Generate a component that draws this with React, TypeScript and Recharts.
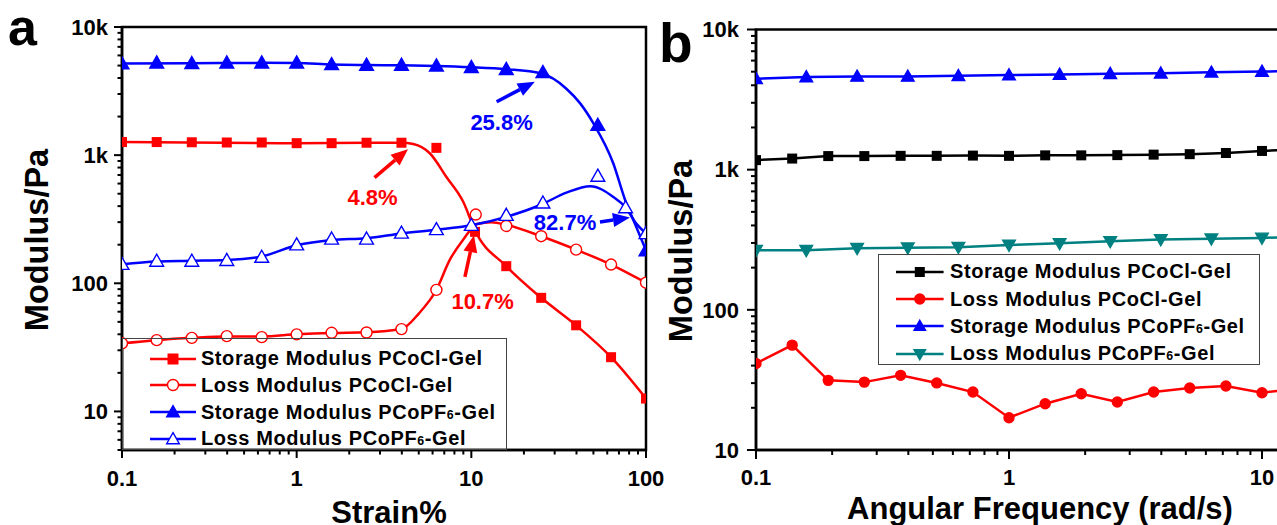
import React from "react"
import {
  LineChart,
  Line,
  XAxis,
  YAxis,
  ReferenceArea,
  ReferenceLine,
  ReferenceDot,
  Legend,
} from "recharts"

// ---------- panel a: strain sweep ----------
// measured points (markers)
const clStorageX = [0.1, 0.158, 0.251, 0.398, 0.631, 1, 1.585, 2.512, 3.981, 6.31, 10.5, 15.85, 25.12, 39.81, 63.1, 100]
const clStorage = [1265, 1265, 1260, 1255, 1255, 1240, 1240, 1250, 1250, 1140, 252, 136, 77, 47, 26.5, 12.6]
const clLossX = [0.1, 0.158, 0.251, 0.398, 0.631, 1, 1.585, 2.512, 3.981, 6.31, 10.6, 15.85, 25.12, 39.81, 63.1, 100]
const clLoss = [34, 36, 37.5, 38.7, 38, 39.9, 41.1, 41.3, 43.9, 88.8, 344, 280, 233, 183, 140, 101]
const pfStorageX = [0.1, 0.158, 0.251, 0.398, 0.631, 1, 1.585, 2.512, 3.981, 6.31, 10, 15.85, 25.7, 53, 100]
const pfStorage = [5170, 5250, 5200, 5250, 5250, 5250, 5100, 5050, 5045, 4975, 4845, 4680, 4425, 1715, 180]
const pfLossX = [0.1, 0.158, 0.251, 0.398, 0.631, 1, 1.585, 2.512, 3.981, 6.31, 10, 15.85, 25.7, 53, 76.4, 100]
const pfLoss = [141, 149, 149, 151, 160, 200, 222, 222, 247, 263, 284, 340, 424, 686, 390, 245]

// smoothed curves
const clStorageFitX = [0.1, 1, 2.512, 3.981, 4.65, 5.8, 7.2, 9, 10.5, 15.85, 25.12, 39.81, 63.1, 100]
const clStorageFit = [1265, 1240, 1250, 1250, 1220, 1030, 676, 431, 258, 136, 77, 47, 26.5, 12.6]
const clLossFitX = [0.1, 0.158, 0.251, 0.398, 0.631, 1, 1.585, 2.512, 3.981, 5, 6.31, 7.5, 9, 10.8, 13, 16, 25.12, 39.81, 63.1, 100]
const clLossFit = [34, 36, 37.5, 38.5, 38.5, 40, 41, 41.5, 44, 58, 89, 151, 220, 290, 300, 285, 233, 183, 140, 101]
const pfStorageFitX = [0.1, 0.251, 0.631, 1, 1.585, 2.512, 3.981, 6.31, 10, 15.85, 25, 35, 42, 50, 65, 76, 88, 100]
const pfStorageFit = [5180, 5220, 5250, 5230, 5100, 5050, 5020, 4960, 4850, 4680, 4350, 3300, 2535, 1770, 861, 445, 275, 180]
const pfLossFitX = [0.1, 0.158, 0.251, 0.398, 0.631, 1, 1.585, 2.512, 3.981, 6.31, 10, 15.85, 25, 35, 48, 65, 76, 88, 100]
const pfLossFit = [141, 148, 150, 152, 162, 198, 218, 225, 245, 262, 284, 330, 410, 510, 573, 472, 395, 292, 245]

// ---------- panel b: frequency sweep ----------
const freq7 = [0.1, 0.139, 0.193, 0.268, 0.373, 0.518, 0.72, 1, 1.39, 1.93, 2.68, 3.73, 5.18, 7.2, 10, 13.9]
const bClStorage = [1170, 1200, 1250, 1250, 1255, 1255, 1260, 1255, 1265, 1265, 1270, 1280, 1290, 1315, 1360, 1400]
const bClLoss = [41.4, 56, 31.4, 30.5, 34.1, 30.1, 25.9, 17.0, 21.4, 25.2, 22.0, 25.9, 27.7, 28.6, 25.6, 27.5]
const freq5 = [0.1, 0.158, 0.251, 0.398, 0.631, 1, 1.585, 2.512, 3.981, 6.31, 10, 15.85]
const bPfStorage = [4456, 4580, 4627, 4627, 4673, 4730, 4780, 4835, 4865, 4945, 5020, 5050]
const bPfLoss = [266, 266, 275, 277, 280, 290, 298, 308, 318, 322, 326, 335]

const seriesNames = [
  "Storage Modulus PCoCl-Gel",
  "Loss Modulus PCoCl-Gel",
  "Storage Modulus PCoPF6-Gel",
  "Loss Modulus PCoPF6-Gel",
]

// ticks
const logTicksX = [0.1, 0.2, 0.3, 0.4, 0.5, 0.6, 0.7, 0.8, 0.9, 1, 2, 3, 4, 5, 6, 7, 8, 9, 10, 20, 30, 40, 50, 60, 70, 80, 90, 100]
const xMajors = [0.1, 1, 10, 100]
const xMajorLabels = ["0.1", "1", "10", "100"]
const logTicksYA = [5, 6, 7, 8, 9, 10, 20, 30, 40, 50, 60, 70, 80, 90, 100, 200, 300, 400, 500, 600, 700, 800, 900, 1000, 2000, 3000, 4000, 5000, 6000, 7000, 8000, 9000, 10000]
const logTicksYB = [10, 20, 30, 40, 50, 60, 70, 80, 90, 100, 200, 300, 400, 500, 600, 700, 800, 900, 1000, 2000, 3000, 4000, 5000, 6000, 7000, 8000, 9000, 10000]
const yMajors = [10, 100, 1000, 10000]
const yMajorLabels = ["10", "100", "1k", "10k"]

// annotations (data coordinates)
const arrowsA = [
  { from: [13.96, 2607], to: [23.1, 3740], color: "#0000ff" },
  { from: [2.79, 668], to: [4.34, 1114], color: "#ff0000" },
  { from: [9.19, 112], to: [10.35, 237], color: "#ff0000" },
  { from: [54.5, 301], to: [80.9, 326], color: "#0000ff" },
]
const notesA = [
  { x: 14.9, y: 1820, text: "25.8%", color: "#0000ff" },
  { x: 2.72, y: 466, text: "4.8%", color: "#ff0000" },
  { x: 11.6, y: 72.3, text: "10.7%", color: "#ff0000" },
  { x: 34.4, y: 301, text: "82.7%", color: "#0000ff" },
]

const RED = "#ff0000"
const BLUE = "#0000ff"
const TEAL = "#008080"
const FONT = "'Liberation Sans', Arial, Helvetica, sans-serif"

const pts = (xs: number[], ys: number[]) => xs.map((x, i) => ({ x, y: ys[i] }))

type Shape = "square" | "circle" | "circleOpen" | "triangle" | "triangleOpen" | "triangleDown"

function Marker({ cx, cy, shape, color, size }: { cx: number; cy: number; shape: Shape; color: string; size: number }) {
  if (cx == null || cy == null) return null
  const h = size / 2
  if (shape === "square") {
    return <rect x={cx - h} y={cy - h} width={size} height={size} fill={color} />
  }
  if (shape === "circle" || shape === "circleOpen") {
    return <circle cx={cx} cy={cy} r={h} fill={shape === "circle" ? color : "#fff"} stroke={color} strokeWidth={1.4} />
  }
  const t = h * 1.15
  const points =
    shape === "triangleDown"
      ? `${cx},${cy + t} ${cx + t},${cy - t * 0.75} ${cx - t},${cy - t * 0.75}`
      : `${cx},${cy - t} ${cx + t},${cy + t * 0.75} ${cx - t},${cy + t * 0.75}`
  return <polygon points={points} fill={shape === "triangleOpen" ? "#fff" : color} stroke={color} strokeWidth={1.4} />
}

const dotOf = (shape: Shape, color: string, size: number) => (p: any) =>
  <Marker key={`d${p.index}`} cx={p.cx} cy={p.cy} shape={shape} color={color} size={size} />

const tickFont = { fontFamily: FONT, fontSize: 22, fontWeight: 700, fill: "#000" }

const isMajor = (majors: number[], v: number) => majors.findIndex((m) => Math.abs(m - v) / m < 1e-6)

const xTick = (major: number, minor: number, gap: number) => (p: any) => {
  const i = isMajor(xMajors, p.payload.value)
  return (
    <g>
      <line x1={p.x} x2={p.x} y1={p.y} y2={p.y + (i >= 0 ? major : minor)} stroke="#000" strokeWidth={2} />
      {i >= 0 && (
        <text x={p.x} y={p.y + gap} dy="0.35em" textAnchor="middle" style={tickFont}>
          {xMajorLabels[i]}
        </text>
      )}
    </g>
  )
}

const yTick = (major: number, minor: number, gap: number) => (p: any) => {
  const i = isMajor(yMajors, p.payload.value)
  return (
    <g>
      <line x1={p.x} x2={p.x - (i >= 0 ? major : minor)} y1={p.y} y2={p.y} stroke="#000" strokeWidth={2} />
      {i >= 0 && (
        <text x={p.x - gap} y={p.y} dy="0.35em" textAnchor="end" style={tickFont}>
          {yMajorLabels[i]}
        </text>
      )}
    </g>
  )
}

function ArrowShape(p: any) {
  const { x1, y1, x2, y2, stroke } = p
  const a = Math.atan2(y2 - y1, x2 - x1)
  const L = 17
  const W = 7
  const bx = x2 - L * Math.cos(a)
  const by = y2 - L * Math.sin(a)
  const pts = `${x2},${y2} ${bx + W * Math.sin(a)},${by - W * Math.cos(a)} ${bx - W * Math.sin(a)},${by + W * Math.cos(a)}`
  return (
    <g>
      <line x1={x1} y1={y1} x2={bx} y2={by} stroke={stroke} strokeWidth={3.5} />
      <polygon points={pts} fill={stroke} />
    </g>
  )
}

const noteShape = (text: string, color: string) => (p: any) =>
  (
    <text x={p.cx} y={p.cy} dy="0.35em" textAnchor="middle" style={{ fontFamily: FONT, fontSize: 22, fontWeight: 700, fill: color }}>
      {text}
    </text>
  )

function SeriesName({ name }: { name: string }) {
  const parts = name.split("PF6")
  if (parts.length === 1) return <>{name}</>
  return (
    <>
      {parts[0]}PF<span style={{ fontSize: "0.62em" }}>6</span>
      {parts[1]}
    </>
  )
}

function LegendBox(props: {
  styles: { shape: Shape; color: string }[]
  padTop: number
  padLeft: number
  rowH: number
  sampleW: number
  gap: number
  size: number
}) {
  const { styles, padTop, padLeft, rowH, sampleW, gap, size } = props
  return (
    <div
      style={{
        boxSizing: "border-box",
        width: "100%",
        height: "100%",
        border: "1.3px solid #444",
        paddingTop: padTop,
        paddingLeft: padLeft,
        fontFamily: FONT,
        fontWeight: 700,
        fontSize: 20,
        letterSpacing: 0.6,
        color: "#000",
      }}
    >
      {seriesNames.map((name, i) => (
        <div key={name} style={{ display: "flex", alignItems: "center", height: rowH, whiteSpace: "nowrap" }}>
          <svg width={sampleW} height={16} style={{ flex: "none", marginRight: gap }}>
            <line x1={0} x2={sampleW} y1={8} y2={8} stroke={styles[i].color} strokeWidth={2.5} />
            <Marker cx={sampleW / 2} cy={8} shape={styles[i].shape} color={styles[i].color} size={size} />
          </svg>
          <span>
            <SeriesName name={name} />
          </span>
        </div>
      ))}
    </div>
  )
}

const axisLine = { stroke: "#000", strokeWidth: 2.5 }

function PanelA() {
  const styles: { shape: Shape; color: string }[] = [
    { shape: "square", color: RED },
    { shape: "circleOpen", color: RED },
    { shape: "triangle", color: BLUE },
    { shape: "triangleOpen", color: BLUE },
  ]
  return (
    <LineChart width={690} height={525} margin={{ top: 27, right: 44, bottom: 0, left: 0 }}>
      <XAxis
        type="number"
        dataKey="x"
        scale="log"
        domain={[0.1, 100]}
        allowDataOverflow
        ticks={logTicksX}
        interval={0}
        tickSize={0}
        tickMargin={0}
        tickLine={false}
        axisLine={axisLine}
        height={75}
        tick={xTick(8, 4.5, 28)}
      />
      <YAxis
        type="number"
        dataKey="y"
        scale="log"
        domain={[5, 10000]}
        allowDataOverflow
        ticks={logTicksYA}
        interval={0}
        tickSize={0}
        tickMargin={0}
        tickLine={false}
        axisLine={axisLine}
        width={122}
        tick={yTick(8, 4.5, 14)}
      />
      <ReferenceArea x1={0.1} x2={100} y1={5} y2={10000} fill="none" fillOpacity={0} stroke="#000" strokeWidth={2.5} />
      <Line data={pts(clStorageFitX, clStorageFit)} dataKey="y" type="monotone" stroke={RED} strokeWidth={2.5} dot={false} activeDot={false} legendType="none" isAnimationActive={false} />
      <Line data={pts(clLossFitX, clLossFit)} dataKey="y" type="monotone" stroke={RED} strokeWidth={2.5} dot={false} activeDot={false} legendType="none" isAnimationActive={false} />
      <Line data={pts(pfStorageFitX, pfStorageFit)} dataKey="y" type="monotone" stroke={BLUE} strokeWidth={2.5} dot={false} activeDot={false} legendType="none" isAnimationActive={false} />
      <Line data={pts(pfLossFitX, pfLossFit)} dataKey="y" type="monotone" stroke={BLUE} strokeWidth={2.5} dot={false} activeDot={false} legendType="none" isAnimationActive={false} />
      <Line name={seriesNames[0]} data={pts(clStorageX, clStorage)} dataKey="y" stroke="none" dot={dotOf("square", RED, 10)} activeDot={false} isAnimationActive={false} />
      <Line name={seriesNames[1]} data={pts(clLossX, clLoss)} dataKey="y" stroke="none" dot={dotOf("circleOpen", RED, 11)} activeDot={false} isAnimationActive={false} />
      <Line name={seriesNames[2]} data={pts(pfStorageX, pfStorage)} dataKey="y" stroke="none" dot={dotOf("triangle", BLUE, 12)} activeDot={false} isAnimationActive={false} />
      <Line name={seriesNames[3]} data={pts(pfLossX, pfLoss)} dataKey="y" stroke="none" dot={dotOf("triangleOpen", BLUE, 12)} activeDot={false} isAnimationActive={false} />
      {arrowsA.map((a, i) => (
        <ReferenceLine
          key={`arrow${i}`}
          segment={[
            { x: a.from[0], y: a.from[1] },
            { x: a.to[0], y: a.to[1] },
          ]}
          stroke={a.color}
          shape={ArrowShape}
        />
      ))}
      {notesA.map((n) => (
        <ReferenceDot key={n.text} x={n.x} y={n.y} r={0} shape={noteShape(n.text, n.color)} />
      ))}
      <Legend
        layout="vertical"
        align="center"
        verticalAlign="middle"
        wrapperStyle={{ left: 122, top: 337.5, width: 385, height: 112, margin: 0 }}
        content={() => <LegendBox styles={styles} padTop={6.7} padLeft={27.4} rowH={26.8} sampleW={46} gap={4.5} size={11} />}
      />
    </LineChart>
  )
}

function PanelB() {
  const styles: { shape: Shape; color: string }[] = [
    { shape: "square", color: "#000" },
    { shape: "circle", color: RED },
    { shape: "triangle", color: BLUE },
    { shape: "triangleDown", color: TEAL },
  ]
  return (
    <LineChart width={875} height={525} margin={{ top: 29.5, right: 20, bottom: 0, left: 0 }}>
      <XAxis
        type="number"
        dataKey="x"
        scale="log"
        domain={[0.1, 100]}
        allowDataOverflow
        ticks={logTicksX}
        interval={0}
        tickSize={0}
        tickMargin={0}
        tickLine={false}
        axisLine={axisLine}
        height={75}
        tick={xTick(9, 5, 27)}
      />
      <YAxis
        type="number"
        dataKey="y"
        scale="log"
        domain={[10, 10000]}
        allowDataOverflow
        ticks={logTicksYB}
        interval={0}
        tickSize={0}
        tickMargin={0}
        tickLine={false}
        axisLine={axisLine}
        width={96}
        tick={yTick(9, 5, 17)}
      />
      <ReferenceArea x1={0.1} x2={100} y1={10} y2={10000} fill="none" fillOpacity={0} stroke="#000" strokeWidth={2.5} />
      <Line name={seriesNames[0]} data={pts(freq7, bClStorage)} dataKey="y" stroke="#000" strokeWidth={2.5} dot={dotOf("square", "#000", 10)} activeDot={false} isAnimationActive={false} />
      <Line name={seriesNames[1]} data={pts(freq7, bClLoss)} dataKey="y" stroke={RED} strokeWidth={2.5} dot={dotOf("circle", RED, 10)} activeDot={false} isAnimationActive={false} />
      <Line name={seriesNames[2]} data={pts(freq5, bPfStorage)} dataKey="y" stroke={BLUE} strokeWidth={2.5} dot={dotOf("triangle", BLUE, 11)} activeDot={false} isAnimationActive={false} />
      <Line name={seriesNames[3]} data={pts(freq5, bPfLoss)} dataKey="y" stroke={TEAL} strokeWidth={2.5} dot={dotOf("triangleDown", TEAL, 11)} activeDot={false} isAnimationActive={false} />
      <Legend
        layout="vertical"
        align="center"
        verticalAlign="middle"
        wrapperStyle={{ left: 218.4, top: 253.8, width: 382, height: 111, margin: 0 }}
        content={() => <LegendBox styles={styles} padTop={3.6} padLeft={16.6} rowH={27.2} sampleW={47.6} gap={6.4} size={10} />}
      />
    </LineChart>
  )
}

const titleFont = { fontFamily: FONT, fontSize: 32.5, fontWeight: 700, fill: "#000" }

export default function App() {
  return (
    <div style={{ position: "relative", width: 1277, height: 525, overflow: "hidden", background: "#fff" }}>
      <style>{"body{margin:0}"}</style>
      <div style={{ position: "absolute", left: 0, top: 0 }}>
        <PanelA />
      </div>
      <div style={{ position: "absolute", left: 660, top: 0 }}>
        <PanelB />
      </div>
      <svg width={1277} height={525} style={{ position: "absolute", left: 0, top: 0, pointerEvents: "none" }}>
        <text x={8} y={45} style={{ fontFamily: FONT, fontSize: 52, fontWeight: 700 }}>a</text>
        <text x={659} y={62} style={{ fontFamily: FONT, fontSize: 55, fontWeight: 700 }}>b</text>
        <text transform="translate(36,240) rotate(-90)" textAnchor="middle" dy="0.36em" style={titleFont}>Modulus/Pa</text>
        <text transform="translate(680,251) rotate(-90)" textAnchor="middle" dy="0.36em" style={titleFont}>Modulus/Pa</text>
        <text x={389} y={523} textAnchor="middle" style={{ ...titleFont, fontSize: 31 }}>Strain%</text>
        <text x={1040} y={519} textAnchor="middle" style={{ ...titleFont, fontSize: 31 }}>Angular Frequency (rad/s)</text>
      </svg>
    </div>
  )
}
